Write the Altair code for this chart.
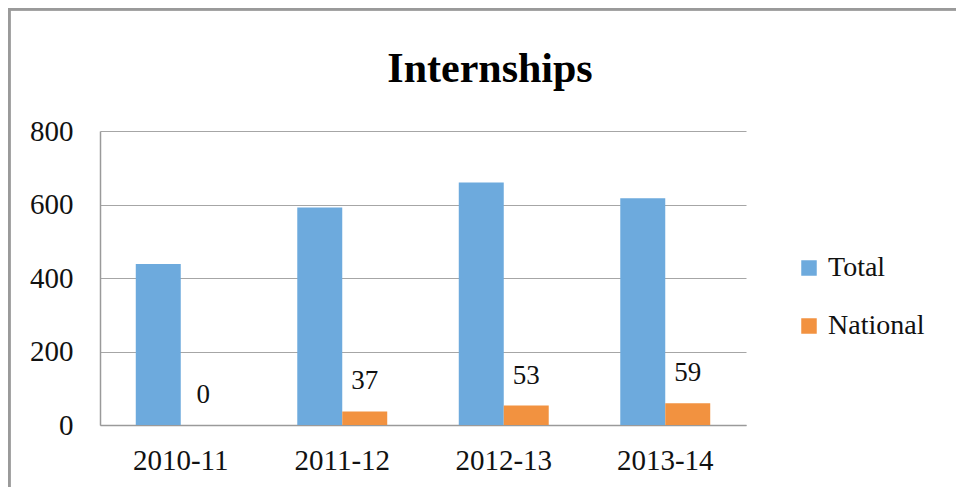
import altair as alt
import pandas as pd

years = ["2010-11", "2011-12", "2012-13", "2013-14"]
total = [438, 592, 660, 617]
national = [0, 37, 53, 59]
series_names = ["Total", "National"]
colors = ["#6DAADD", "#F29240"]
chart_title = "Internships"

rows = []
for i, y in enumerate(years):
    rows.append({"year": y, "series": "Total", "value": total[i]})
    rows.append({"year": y, "series": "National", "value": national[i]})
df = pd.DataFrame(rows)

FONT = "Liberation Serif, Times New Roman, DejaVu Serif, serif"
W, H = 646, 294
PL, PT, PR, PB = 92, 123, 210, 62

x_enc = alt.X("year:N", sort=years, title=None,
              scale=alt.Scale(paddingInner=0.443, paddingOuter=0.2215),
              axis=alt.Axis(labelAngle=0, labelFontSize=29, labelFont=FONT,
                            labelColor="#111111", ticks=False, labelPadding=21,
                            domainColor="#9a9a9a", domainWidth=1.5, grid=False))
xo_enc = alt.XOffset("series:N", scale=alt.Scale(domain=series_names, paddingInner=0, paddingOuter=0))
y_enc = alt.Y("value:Q", title=None,
              scale=alt.Scale(domain=[0, 800]),
              axis=alt.Axis(values=[0, 200, 400, 600, 800], labelFontSize=29, labelFont=FONT,
                            labelColor="#111111", ticks=False, labelPadding=27,
                            domainColor="#9a9a9a", domainWidth=1.5,
                            gridColor="#a6a6a6", gridWidth=1.2))

bars = alt.Chart(df).mark_bar().encode(
    x=x_enc,
    xOffset=xo_enc,
    y=y_enc,
    color=alt.Color("series:N", scale=alt.Scale(domain=series_names, range=colors),
                    legend=alt.Legend(title=None, orient="none", legendX=695, legendY=123,
                                      symbolType="square", symbolSize=240, symbolStrokeWidth=0,
                                      labelFontSize=28, labelFont=FONT, labelColor="#111111",
                                      labelOffset=5, rowPadding=30)),
)

labels = alt.Chart(df).transform_filter(alt.datum.series == "National").mark_text(
    baseline="alphabetic", dy=-22, fontSize=27, font=FONT, color="#111111"
).encode(
    x=alt.X("year:N", sort=years),
    xOffset=xo_enc,
    y="value:Q",
    text="value:Q",
)

title_mark = alt.Chart(df).transform_filter(alt.datum.series == "Total").transform_filter(
    alt.datum.year == years[0]
).mark_text(
    baseline="alphabetic", align="center", fontSize=42, fontWeight="bold", font=FONT, color="#000000",
    text=chart_title
).encode(x=alt.value(W / 2 + 67), y=alt.value(-49))

frame_top = alt.Chart(df).mark_rule(color="#9a9a9a", strokeWidth=2.5).encode(
    x=alt.value(-PL), x2=alt.value(W + PR), y=alt.value(-PT + 1)
)
frame_left = alt.Chart(df).mark_rule(color="#9a9a9a", strokeWidth=2.5).encode(
    x=alt.value(-PL + 1), y=alt.value(-PT), y2=alt.value(H + PB)
)

chart = alt.layer(bars, labels, title_mark, frame_top, frame_left).properties(
    width=W, height=H,
    autosize=alt.AutoSizeParams(type="none"),
    padding={"left": PL, "top": PT, "right": PR, "bottom": PB},
).configure_view(stroke=None)

chart.save("out.html", embed_options={"renderer": "svg", "actions": False})
